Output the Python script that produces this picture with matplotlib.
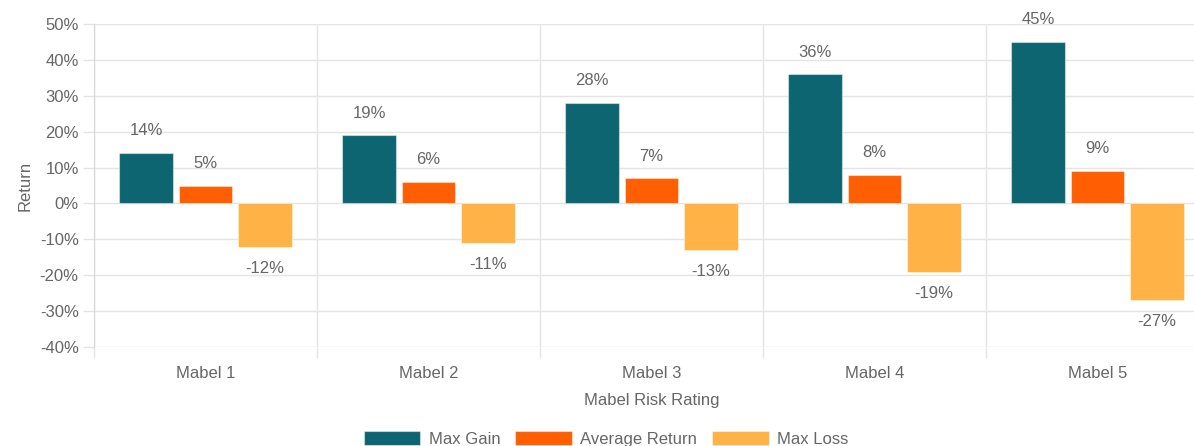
"""Mabel risk rating: max gain / average return / max loss grouped bars."""

import matplotlib.pyplot as plt
import numpy as np

plt.rcParams["font.family"] = ["Liberation Sans", "DejaVu Sans"]

categories = ["Mabel 1", "Mabel 2", "Mabel 3", "Mabel 4", "Mabel 5"]
max_gain = [14, 19, 28, 36, 45]
average_return = [5, 6, 7, 8, 9]
max_loss = [-12, -11, -13, -19, -27]

series = [
    ("Max Gain", max_gain, "#0d6571"),
    ("Average Return", average_return, "#ff5f00"),
    ("Max Loss", max_loss, "#ffb347"),
]

W, H = 1194, 446
fig = plt.figure(figsize=(W / 100, H / 100), dpi=100)
# plot area runs a little past the right edge, as in the source
ax = fig.add_axes([94 / W, 1 - 347 / H, (1209 - 94) / W, (347 - 24) / H])

text_grey = "#666666"
grid_grey = "#e4e4e4"
fs = 12

x = np.arange(len(categories))
slot = 0.8 / len(series)
width = slot * 0.9
for i, (name, values, color) in enumerate(series):
    pos = x - 0.4 + slot * (i + 0.5)
    bars = ax.bar(pos, values, width, color=color, label=name,
                  edgecolor=(1, 1, 1, 0.45), linewidth=0.8, zorder=3)
    for rect, v in zip(bars, values):
        cx = rect.get_x() + rect.get_width() / 2
        off = 16 if v >= 0 else -15.5
        ax.annotate(f"{v}%", (cx, v), xytext=(0, off), textcoords="offset points",
                    ha="center", va="center", fontsize=fs, color=text_grey)

ax.set_xlim(-0.5, len(categories) - 0.5)
ax.set_ylim(-40, 50)
ax.set_yticks(np.arange(-40, 51, 10))
ax.set_yticklabels([f"{t}%" for t in range(-40, 51, 10)])
ax.set_xticks(x)
ax.set_xticklabels(categories)

# vertical grid at category boundaries
ax.set_xticks(np.arange(-0.5, len(categories), 1), minor=True)
ax.grid(which="minor", axis="x", color=grid_grey, linewidth=1, zorder=0)
ax.grid(which="major", axis="y", color=grid_grey, linewidth=1, zorder=0)

ax.tick_params(axis="y", length=8, width=1, color=grid_grey, pad=3,
               labelsize=fs, labelcolor=text_grey)
ax.tick_params(axis="x", which="major", length=0, pad=14,
               labelsize=fs, labelcolor=text_grey)
ax.tick_params(axis="x", which="minor", length=8, width=1, color=grid_grey)

for side in ("top", "right", "bottom"):
    ax.spines[side].set_visible(False)
ax.spines["left"].set_color("#d5d5d5")

ax.set_ylabel("Return", fontsize=fs, color=text_grey, labelpad=5)
ax.set_xlabel("Mabel Risk Rating", fontsize=fs, color=text_grey, labelpad=8)

fig.legend(loc="center", bbox_to_anchor=(606 / W, 1 - 439 / H), ncol=3,
           frameon=False, fontsize=fs, labelcolor=text_grey,
           handlelength=3.4, handleheight=0.9, handletextpad=0.5,
           columnspacing=0.9)

fig.savefig("out.png", dpi=100)
plt.close(fig)
